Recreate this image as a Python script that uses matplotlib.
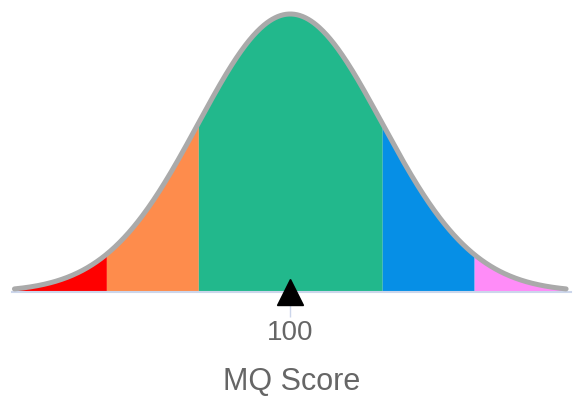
import numpy as np
import matplotlib.pyplot as plt

plt.rcParams['font.family'] = ['Liberation Sans', 'DejaVu Sans']

mean = 100
sd = 15
bounds = [55, 70, 85, 115, 130, 145]
band_colors = ['#ff0000', '#fe8c4c', '#22b88c', '#068fe6', '#ff8cf8']
tick_values = [100]
tick_labels = ['100']
x_title = 'MQ Score'


def pdf(x):
    return np.exp(-0.5 * ((x - mean) / sd) ** 2) / (sd * np.sqrt(2 * np.pi))


fig = plt.figure(figsize=(5.73, 4.01), dpi=100)
ax = fig.add_axes([12 / 573, 109 / 401, 559 / 573, 278 / 401])

for lo, hi, c in zip(bounds[:-1], bounds[1:], band_colors):
    xs = np.linspace(lo, hi, 200)
    ax.fill_between(xs, 0, pdf(xs), color=c, linewidth=0)

xs = np.linspace(bounds[0], bounds[-1], 600)
ax.plot(xs, pdf(xs), color='#aaaaaa', lw=3.6, solid_capstyle='round', clip_on=False, zorder=3)

ax.plot([mean], [0], marker='^', color='black', markersize=19, clip_on=False, zorder=5)

ax.set_xlim(54.6, 145.8)
ax.set_ylim(0, pdf(mean))

for s in ['top', 'right', 'left']:
    ax.spines[s].set_visible(False)
ax.spines['bottom'].set_color('#ccd6eb')
ax.spines['bottom'].set_linewidth(1.5)
ax.set_yticks([])
ax.set_xticks(tick_values)
ax.set_xticklabels(tick_labels)
ax.tick_params(axis='x', length=18, width=1, color='#ccd6eb', pad=2.5,
               labelsize=20, labelcolor='#666666')
ax.set_xlabel(x_title, fontsize=22, color='#666666', labelpad=15)

fig.savefig('out.png', dpi=100)
